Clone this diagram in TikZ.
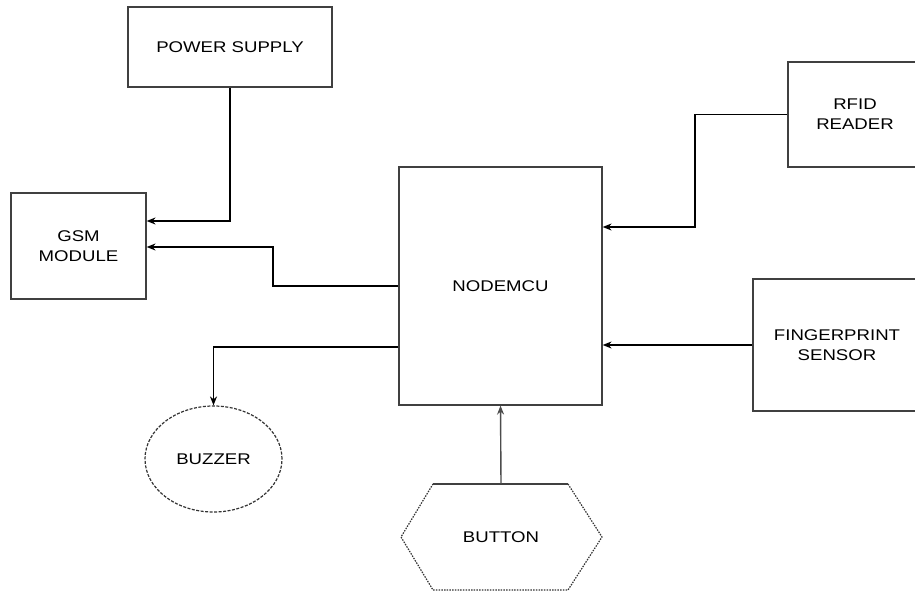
\documentclass[tikz,border=0pt]{standalone}
\usepackage{fontspec}
\newfontfamily\diagfont[FakeStretch=1.2]{Liberation Sans}
\usetikzlibrary{arrows.meta,shapes.geometric,calc}
\begin{document}
\begin{tikzpicture}[x=1pt,y=-1pt,
  blockbox/.style={draw=black!75,line width=1.2pt,rectangle,minimum width=#1,inner sep=0pt,align=center,font=\diagfont\fontsize{15.5}{20}\selectfont},
  conn/.style={draw=black,line width=1.4pt,-{Stealth[length=9pt,width=7pt]}},
  lbl/.style={font=\diagfont\fontsize{15.5}{20}\selectfont,align=center}]
\useasboundingbox (0,0) rectangle (915,591);
\clip (0,0) rectangle (915,591);
\node[blockbox=204pt,minimum height=80pt] (ps) at (230,47) {POWER SUPPLY};
\node[blockbox=135pt,minimum height=106pt] (gsm) at (78.5,246) {GSM\\MODULE};
\node[blockbox=203pt,minimum height=238pt] (mcu) at (500.5,286) {NODEMCU};
\node[blockbox=134pt,minimum height=105pt] (rfid) at (855,114.5) {RFID\\READER};
\node[blockbox=168pt,minimum height=132pt] (fp) at (837,345) {FINGERPRINT\\SENSOR};
\node[draw=black!80,line width=1.2pt,dash pattern=on 3pt off 1.5pt,ellipse,minimum width=137pt,minimum height=106pt,inner sep=0pt,lbl] (buzzer) at (213.5,459) {BUZZER};
\draw[black!80,line width=1.2pt,dash pattern=on 1.5pt off 1.2pt] (433,484) -- (568,484) -- (602,537) -- (568,590) -- (433,590) -- (401,537) -- cycle;
\draw[black!75,line width=1.2pt] (433,484) -- (568,484);
\node[lbl,minimum width=130pt,minimum height=106pt,inner sep=0pt] (button) at (501,537) {BUTTON};
\coordinate (g1) at (230,221);
\coordinate (g2) at (273,247);
\coordinate (r1) at (695,227);
\draw[conn] (ps.south) -- (g1) -- (gsm.east |- g1);
\draw[conn] (mcu.west) -| (g2) -- (gsm.east |- g2);
\draw[conn] ([yshift=-61pt]mcu.west) -| (buzzer.north);
\draw[conn] (rfid.west) -| (r1) -- (mcu.east |- r1);
\draw[conn] (fp.west) -- (fp.west -| mcu.east);
\draw[conn,draw=black!70] (button.north) -- (mcu.south);
\end{tikzpicture}
\end{document}
